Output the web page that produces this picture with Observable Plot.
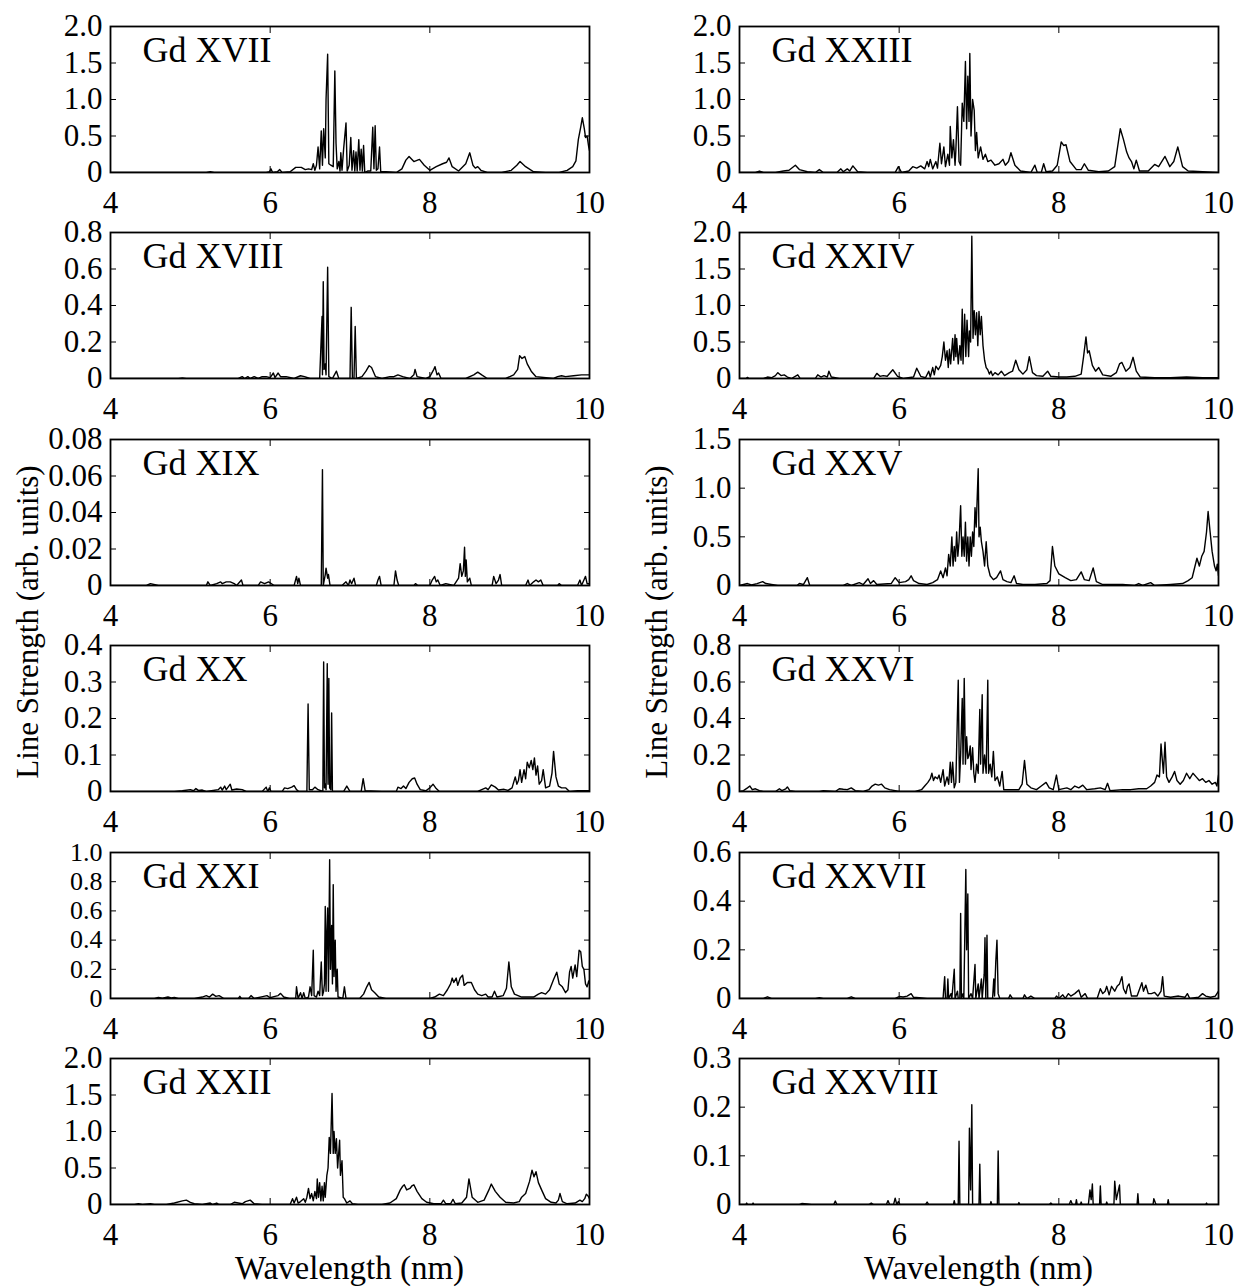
<!DOCTYPE html>
<html>
<head>
<meta charset="utf-8">
<script src="https://cdn.jsdelivr.net/npm/d3@7"></script>
<script src="https://cdn.jsdelivr.net/npm/@observablehq/plot@0.6"></script>
<style>
  html, body { margin: 0; padding: 0; background: #fff; }
  #fig { position: relative; width: 1238px; height: 1288px; background: #fff; overflow: hidden; }
  #fig > svg.panel { position: absolute; }
</style>
</head>
<body>
<div id="fig"></div>
<script>
// ---- data: [wavelength (nm), line strength (arb. units)] ----
const gdXVII = [[4.0,0],[4.9,0],[5.2,0],[5.25,0.01],[5.3,0],[5.95,0],[5.99,0.01],[6.01,0.05],[6.03,0],[6.09,0.01],[6.12,0.04],[6.15,0],[6.25,0.01],[6.32,0.07],[6.39,0.07],[6.44,0.04],[6.48,0.05],[6.52,0.04],[6.54,0.12],[6.56,0.03],[6.58,0.1],[6.60,0.35],[6.62,0.05],[6.64,0.57],[6.655,0.1],[6.67,0.6],[6.69,0.2],[6.70,1.0],[6.72,1.62],[6.735,0.12],[6.76,0.1],[6.79,0.08],[6.81,1.39],[6.825,0.4],[6.84,0.05],[6.86,0.15],[6.875,0.02],[6.885,0.27],[6.90,0.03],[6.92,0.32],[6.95,0.68],[6.965,0.02],[6.99,0.1],[7.01,0.48],[7.025,0.03],[7.045,0.3],[7.06,0.02],[7.075,0.28],[7.09,0.02],[7.11,0.45],[7.125,0.03],[7.14,0.32],[7.155,0.02],[7.17,0.37],[7.185,0],[7.22,0.02],[7.26,0.02],[7.285,0.62],[7.30,0.05],[7.315,0.64],[7.33,0.03],[7.35,0.05],[7.37,0.35],[7.385,0.01],[7.45,0.01],[7.58,0],[7.65,0.05],[7.70,0.17],[7.74,0.22],[7.80,0.15],[7.87,0.18],[7.93,0.1],[8.0,0.03],[8.08,0.08],[8.16,0.12],[8.21,0.14],[8.24,0.2],[8.28,0.08],[8.36,0.02],[8.45,0.12],[8.5,0.27],[8.54,0.1],[8.57,0.06],[8.6,0.08],[8.64,0.03],[8.72,0],[8.9,0],[9.02,0.03],[9.09,0.1],[9.13,0.15],[9.2,0.08],[9.3,0.01],[9.45,0],[9.62,0],[9.72,0.03],[9.79,0.08],[9.83,0.16],[9.86,0.45],[9.89,0.62],[9.91,0.75],[9.935,0.6],[9.95,0.48],[9.97,0.5],[9.99,0.35],[10.0,0.3]];

const gdXVIII = [[4.0,0],[4.85,0],[4.9,0.003],[4.95,0],[5.6,0],[5.65,0.01],[5.68,0],[5.72,0.01],[5.75,0],[5.8,0.01],[5.85,0],[5.9,0.01],[5.95,0.01],[6.0,0.005],[6.04,0.03],[6.06,0.005],[6.1,0.03],[6.13,0.01],[6.2,0.01],[6.3,0],[6.38,0.015],[6.43,0.01],[6.5,0],[6.62,0],[6.65,0.34],[6.655,0.02],[6.665,0.53],[6.675,0.05],[6.69,0.08],[6.70,0.02],[6.72,0.61],[6.735,0.01],[6.78,0],[6.83,0.04],[6.86,0],[7.0,0],[7.015,0.39],[7.03,0],[7.05,0],[7.065,0.285],[7.08,0],[7.15,0.01],[7.2,0.04],[7.24,0.07],[7.27,0.06],[7.32,0.01],[7.4,0],[7.5,0.01],[7.55,0.01],[7.6,0.02],[7.66,0.01],[7.75,0],[7.8,0.02],[7.815,0.05],[7.84,0.01],[7.95,0],[8.0,0.01],[8.05,0.05],[8.065,0.065],[8.09,0.02],[8.11,0.03],[8.14,0],[8.45,0],[8.55,0.02],[8.6,0.035],[8.65,0.02],[8.72,0],[8.95,0],[9.05,0.02],[9.1,0.05],[9.125,0.125],[9.155,0.11],[9.19,0.12],[9.22,0.08],[9.27,0.04],[9.33,0.01],[9.55,0],[9.6,0.01],[9.65,0.015],[9.7,0.01],[9.8,0.015],[9.9,0.02],[10.0,0.02]];

const gdXIX = [[4.0,0],[4.45,0],[4.5,0.001],[4.6,0],[5.2,0],[5.22,0.002],[5.25,0],[5.33,0.001],[5.38,0.002],[5.4,0.001],[5.45,0.002],[5.5,0.002],[5.55,0.001],[5.58,0],[5.64,0.003],[5.66,0],[5.85,0],[5.88,0.002],[5.93,0.001],[5.98,0.002],[6.05,0],[6.3,0],[6.33,0.005],[6.345,0.001],[6.36,0.004],[6.38,0],[6.64,0],[6.655,0.0635],[6.665,0],[6.69,0.006],[6.70,0.0095],[6.72,0.004],[6.73,0.006],[6.75,0],[6.9,0],[6.95,0.002],[6.98,0],[7.0,0.003],[7.02,0.001],[7.05,0.004],[7.07,0],[7.33,0],[7.35,0.003],[7.37,0.005],[7.39,0],[7.55,0],[7.57,0.008],[7.59,0.003],[7.61,0],[7.8,0],[7.82,0.001],[7.85,0],[8.0,0],[8.03,0.003],[8.06,0.005],[8.08,0.002],[8.1,0.003],[8.13,0],[8.2,0.001],[8.3,0],[8.36,0.004],[8.38,0.012],[8.40,0.005],[8.42,0.008],[8.435,0.021],[8.445,0.005],[8.455,0.014],[8.47,0.002],[8.5,0.004],[8.52,0],[8.78,0],[8.8,0.005],[8.83,0.001],[8.86,0.003],[8.88,0.006],[8.9,0],[9.2,0],[9.23,0.003],[9.25,0],[9.3,0.002],[9.33,0.003],[9.36,0.002],[9.39,0.003],[9.42,0],[9.6,0],[9.62,0.001],[9.65,0],[9.85,0],[9.88,0.003],[9.9,0],[9.93,0.003],[9.95,0.005],[9.97,0.001],[10.0,0.001]];

const gdXX = [[4.0,0],[4.8,0],[4.9,0.002],[5.0,0.005],[5.04,0.002],[5.07,0.008],[5.1,0.003],[5.15,0.004],[5.2,0],[5.35,0.005],[5.38,0.012],[5.4,0.004],[5.43,0.015],[5.45,0.005],[5.5,0.02],[5.52,0.004],[5.58,0.007],[5.65,0.005],[5.7,0],[5.9,0],[5.95,0.012],[5.97,0],[5.99,0.01],[6.01,0],[6.15,0],[6.18,0.01],[6.22,0.008],[6.27,0.012],[6.3,0.016],[6.33,0.005],[6.36,0],[6.46,0],[6.475,0.24],[6.49,0.005],[6.53,0.005],[6.56,0.012],[6.6,0.005],[6.66,0],[6.67,0.355],[6.68,0.01],[6.69,0.02],[6.70,0.005],[6.715,0.35],[6.725,0.02],[6.735,0.31],[6.745,0.01],[6.76,0.005],[6.77,0.215],[6.78,0],[6.92,0],[6.96,0.015],[7.0,0],[7.14,0],[7.165,0.035],[7.19,0.002],[7.4,0],[7.58,0],[7.6,0.012],[7.64,0.008],[7.67,0.015],[7.7,0.008],[7.74,0.025],[7.78,0.035],[7.81,0.037],[7.84,0.02],[7.88,0.005],[7.95,0.002],[8.0,0.01],[8.04,0.02],[8.08,0.008],[8.12,0],[8.6,0],[8.65,0.005],[8.7,0.01],[8.73,0.005],[8.77,0.018],[8.82,0.012],[8.86,0.004],[8.93,0.006],[8.98,0.003],[9.03,0.01],[9.07,0.04],[9.09,0.02],[9.11,0.03],[9.13,0.06],[9.15,0.025],[9.18,0.06],[9.2,0.035],[9.22,0.08],[9.245,0.065],[9.27,0.085],[9.29,0.06],[9.31,0.092],[9.33,0.045],[9.35,0.07],[9.37,0.02],[9.4,0.03],[9.42,0.06],[9.45,0.01],[9.5,0.015],[9.53,0.05],[9.55,0.11],[9.58,0.04],[9.61,0.015],[9.65,0.01],[9.7,0.01],[9.75,0],[9.85,0.002],[10.0,0.002]];

const gdXXI = [[4.0,0],[4.55,0],[4.6,0.008],[4.65,0.002],[4.72,0.01],[4.76,0.004],[4.8,0.008],[4.85,0],[5.05,0],[5.15,0.01],[5.2,0.02],[5.24,0.01],[5.28,0.03],[5.32,0.015],[5.36,0.02],[5.42,0],[5.6,0],[5.62,0.015],[5.64,0],[5.73,0],[5.76,0.02],[5.8,0],[5.92,0.015],[5.96,0.02],[6.0,0.005],[6.06,0.015],[6.1,0.02],[6.13,0.035],[6.17,0.01],[6.24,0],[6.32,0],[6.33,0.08],[6.35,0],[6.38,0.04],[6.4,0],[6.42,0.04],[6.44,0],[6.48,0.01],[6.5,0.08],[6.52,0.02],[6.54,0.33],[6.55,0.02],[6.58,0.01],[6.6,0.05],[6.62,0.02],[6.64,0.25],[6.655,0.02],[6.67,0.05],[6.68,0.1],[6.69,0.63],[6.70,0.05],[6.71,0.45],[6.72,0.62],[6.73,0.05],[6.745,0.95],[6.755,0.2],[6.77,0.5],[6.78,0.1],[6.79,0.78],[6.80,0.15],[6.815,0.4],[6.825,0.05],[6.84,0.2],[6.85,0.01],[6.91,0],[6.93,0.08],[6.95,0],[7.12,0],[7.17,0.03],[7.21,0.08],[7.24,0.11],[7.27,0.06],[7.31,0.04],[7.36,0.01],[7.45,0],[8.0,0],[8.06,0.01],[8.12,0.03],[8.17,0.02],[8.22,0.06],[8.26,0.1],[8.28,0.14],[8.3,0.11],[8.33,0.14],[8.35,0.09],[8.38,0.14],[8.41,0.16],[8.43,0.09],[8.47,0.11],[8.52,0.11],[8.56,0.06],[8.6,0.03],[8.65,0.02],[8.7,0.03],[8.73,0.01],[8.78,0.01],[8.81,0.05],[8.84,0.01],[8.92,0.02],[8.96,0.07],[8.99,0.25],[9.02,0.08],[9.06,0.03],[9.15,0.01],[9.3,0.01],[9.36,0.03],[9.4,0.04],[9.45,0.03],[9.5,0.06],[9.55,0.13],[9.59,0.18],[9.62,0.1],[9.66,0.08],[9.7,0.04],[9.73,0.06],[9.75,0.18],[9.77,0.22],[9.79,0.14],[9.82,0.23],[9.84,0.15],[9.86,0.27],[9.87,0.33],[9.89,0.32],[9.91,0.22],[9.93,0.2],[9.95,0.1],[9.97,0.08],[9.99,0.12],[10.0,0.1]];

const gdXXII = [[4.0,0],[4.3,0],[4.35,0.01],[4.4,0],[4.5,0.01],[4.55,0],[4.7,0],[4.8,0.02],[4.9,0.05],[4.95,0.06],[5.0,0.03],[5.05,0.01],[5.15,0],[5.25,0.02],[5.28,0],[5.33,0.02],[5.36,0],[5.5,0],[5.55,0.03],[5.6,0.02],[5.65,0.01],[5.69,0.04],[5.75,0.06],[5.8,0.01],[5.9,0],[6.25,0],[6.28,0.08],[6.3,0.02],[6.33,0.1],[6.35,0.02],[6.38,0.04],[6.42,0.08],[6.44,0.03],[6.46,0.1],[6.48,0.22],[6.5,0.08],[6.52,0.15],[6.54,0.05],[6.56,0.18],[6.58,0.08],[6.59,0.35],[6.605,0.1],[6.62,0.3],[6.635,0.05],[6.65,0.25],[6.665,0.05],[6.68,0.3],[6.69,0.1],[6.71,0.4],[6.725,0.5],[6.74,0.92],[6.755,0.7],[6.775,1.52],[6.79,0.7],[6.80,1.0],[6.815,0.7],[6.83,0.9],[6.845,0.5],[6.87,0.88],[6.88,0.4],[6.9,0.6],[6.915,0.1],[6.93,0.08],[6.96,0.02],[7.0,0.05],[7.03,0.01],[7.1,0],[7.4,0],[7.5,0.02],[7.58,0.08],[7.63,0.2],[7.66,0.25],[7.68,0.27],[7.71,0.2],[7.75,0.22],[7.78,0.26],[7.8,0.27],[7.84,0.18],[7.9,0.08],[7.96,0.03],[8.05,0.01],[8.14,0.01],[8.17,0.06],[8.2,0.01],[8.26,0.01],[8.29,0.07],[8.32,0.01],[8.4,0.02],[8.46,0.1],[8.49,0.35],[8.53,0.1],[8.6,0.03],[8.68,0.06],[8.74,0.2],[8.77,0.28],[8.82,0.18],[8.88,0.1],[8.95,0.03],[9.05,0.02],[9.12,0.04],[9.15,0.1],[9.2,0.15],[9.25,0.32],[9.28,0.47],[9.305,0.38],[9.33,0.45],[9.36,0.3],[9.4,0.2],[9.45,0.08],[9.52,0.03],[9.58,0.02],[9.61,0.06],[9.63,0.15],[9.66,0.04],[9.72,0.01],[9.82,0.02],[9.88,0.06],[9.91,0.04],[9.94,0.08],[9.96,0.14],[9.98,0.12],[10.0,0.08]];

const gdXXIII = [[4.0,0],[4.2,0],[4.25,0.02],[4.3,0],[4.45,0],[4.55,0.02],[4.62,0.03],[4.7,0.1],[4.75,0.04],[4.85,0.01],[4.95,0],[5.0,0.04],[5.05,0],[5.22,0],[5.27,0.05],[5.3,0.01],[5.35,0.05],[5.38,0.02],[5.42,0.09],[5.48,0.01],[5.6,0],[5.95,0],[5.99,0.08],[6.03,0],[6.12,0.02],[6.17,0.08],[6.22,0.06],[6.27,0.09],[6.32,0.05],[6.35,0.15],[6.37,0.08],[6.39,0.18],[6.42,0.05],[6.46,0.15],[6.48,0.06],[6.51,0.4],[6.53,0.12],[6.56,0.35],[6.58,0.08],[6.61,0.25],[6.63,0.1],[6.64,0.63],[6.66,0.2],[6.68,0.45],[6.70,0.1],[6.71,0.3],[6.73,0.9],[6.75,0.15],[6.77,0.1],[6.79,0.95],[6.81,0.7],[6.83,1.52],[6.845,0.6],[6.86,1.32],[6.875,0.7],[6.885,1.63],[6.90,0.5],[6.92,1.0],[6.94,0.85],[6.955,0.3],[6.97,0.55],[6.99,0.2],[7.02,0.35],[7.05,0.18],[7.08,0.25],[7.11,0.15],[7.15,0.17],[7.2,0.1],[7.25,0.12],[7.3,0.18],[7.33,0.1],[7.37,0.15],[7.4,0.27],[7.45,0.1],[7.52,0.02],[7.65,0],[7.7,0.1],[7.73,0],[7.78,0],[7.81,0.12],[7.84,0.01],[7.92,0.02],[7.98,0.1],[8.03,0.42],[8.06,0.37],[8.09,0.38],[8.14,0.15],[8.22,0.04],[8.28,0.04],[8.32,0.12],[8.37,0.03],[8.5,0.01],[8.62,0.02],[8.7,0.08],[8.77,0.6],[8.81,0.45],[8.85,0.28],[8.88,0.2],[8.91,0.15],[8.94,0.05],[8.97,0.17],[9.01,0.02],[9.12,0.02],[9.2,0.11],[9.25,0.08],[9.33,0.22],[9.39,0.08],[9.44,0.15],[9.49,0.35],[9.55,0.08],[9.62,0.02],[9.8,0.01],[10.0,0]];

const gdXXIV = [[4.0,0],[4.08,0],[4.1,0.015],[4.12,0],[4.3,0],[4.35,0.02],[4.4,0.01],[4.45,0.04],[4.48,0.08],[4.52,0.04],[4.56,0.05],[4.6,0.02],[4.65,0],[4.73,0.05],[4.76,0],[4.95,0],[4.98,0.05],[5.02,0.02],[5.06,0.04],[5.1,0.02],[5.12,0.1],[5.15,0.02],[5.25,0],[5.68,0],[5.72,0.07],[5.76,0.03],[5.8,0.04],[5.85,0.03],[5.92,0.12],[5.98,0.03],[6.05,0],[6.18,0.02],[6.22,0.14],[6.27,0.03],[6.33,0.01],[6.37,0.1],[6.39,0.02],[6.42,0.15],[6.44,0.05],[6.46,0.17],[6.49,0.12],[6.52,0.18],[6.54,0.3],[6.56,0.5],[6.58,0.25],[6.6,0.38],[6.615,0.15],[6.63,0.4],[6.645,0.2],[6.67,0.55],[6.685,0.25],[6.70,0.6],[6.71,0.3],[6.72,0.55],[6.74,0.2],[6.76,0.45],[6.775,0.25],[6.79,0.95],[6.80,0.2],[6.82,0.88],[6.835,0.3],[6.85,0.8],[6.87,0.3],[6.88,0.65],[6.895,0.5],[6.91,1.95],[6.925,0.55],[6.94,0.93],[6.955,0.6],[6.97,0.9],[6.985,0.45],[7.0,0.92],[7.015,0.6],[7.03,0.85],[7.05,0.45],[7.07,0.25],[7.09,0.15],[7.11,0.12],[7.13,0.06],[7.15,0.1],[7.17,0.04],[7.2,0.08],[7.24,0.05],[7.28,0.1],[7.32,0.04],[7.38,0.08],[7.42,0.1],[7.46,0.25],[7.5,0.12],[7.55,0.06],[7.6,0.12],[7.63,0.3],[7.67,0.08],[7.72,0.04],[7.8,0.03],[7.86,0.1],[7.9,0.03],[8.0,0.02],[8.1,0.02],[8.2,0.03],[8.28,0.06],[8.31,0.3],[8.34,0.57],[8.36,0.35],[8.38,0.38],[8.42,0.18],[8.46,0.1],[8.5,0.15],[8.55,0.05],[8.65,0.03],[8.72,0.08],[8.76,0.2],[8.79,0.22],[8.84,0.1],[8.89,0.15],[8.93,0.29],[8.97,0.1],[9.02,0.02],[9.2,0.01],[9.4,0.01],[9.6,0.02],[9.8,0.01],[10.0,0.01]];

const gdXXV = [[4.0,0],[4.1,0.02],[4.15,0.005],[4.22,0.02],[4.29,0.04],[4.33,0.02],[4.4,0.01],[4.48,0],[4.72,0],[4.75,0.02],[4.8,0.01],[4.85,0.08],[4.88,0],[5.3,0],[5.35,0.02],[5.4,0],[5.5,0.03],[5.55,0.01],[5.61,0.07],[5.64,0.02],[5.68,0.05],[5.72,0.01],[5.9,0.02],[5.95,0.08],[6.0,0.03],[6.08,0.04],[6.12,0.06],[6.15,0.1],[6.18,0.05],[6.25,0.02],[6.35,0.01],[6.42,0.03],[6.48,0.06],[6.52,0.15],[6.55,0.08],[6.58,0.18],[6.6,0.1],[6.62,0.32],[6.64,0.2],[6.66,0.5],[6.675,0.2],[6.69,0.4],[6.705,0.25],[6.72,0.55],[6.735,0.3],[6.75,0.45],[6.77,0.82],[6.785,0.3],[6.8,0.5],[6.815,0.3],[6.83,0.65],[6.845,0.25],[6.86,0.5],[6.875,0.2],[6.89,0.5],[6.905,0.3],[6.92,0.55],[6.935,0.4],[6.95,0.8],[6.965,0.6],[6.99,1.2],[7.0,0.5],[7.015,0.6],[7.03,0.45],[7.05,0.35],[7.07,0.2],[7.09,0.45],[7.11,0.2],[7.14,0.1],[7.18,0.06],[7.22,0.08],[7.27,0.15],[7.3,0.06],[7.35,0.04],[7.4,0.03],[7.44,0.1],[7.47,0.02],[7.55,0.01],[7.7,0.01],[7.85,0.02],[7.89,0.05],[7.92,0.4],[7.95,0.2],[8.0,0.12],[8.08,0.08],[8.15,0.05],[8.22,0.06],[8.28,0.14],[8.32,0.06],[8.38,0.05],[8.43,0.18],[8.47,0.04],[8.55,0.01],[8.8,0.01],[8.95,0],[9.0,0.02],[9.05,0],[9.15,0.03],[9.2,0],[9.4,0.01],[9.55,0.02],[9.62,0.05],[9.67,0.08],[9.73,0.28],[9.76,0.2],[9.79,0.3],[9.82,0.35],[9.85,0.55],[9.87,0.76],[9.895,0.55],[9.92,0.35],[9.95,0.2],[9.97,0.15],[9.985,0.22],[10.0,0.1]];

const gdXXVI = [[4.0,0],[4.05,0.005],[4.1,0.02],[4.13,0.03],[4.16,0.01],[4.2,0.015],[4.25,0.005],[4.3,0],[4.45,0],[4.5,0.015],[4.53,0.005],[4.58,0.015],[4.6,0.025],[4.63,0.005],[4.7,0],[5.0,0],[5.05,0.005],[5.2,0],[5.25,0.015],[5.3,0.012],[5.35,0.01],[5.4,0.02],[5.45,0.005],[5.55,0],[5.62,0.01],[5.66,0.03],[5.7,0.04],[5.74,0.035],[5.78,0.04],[5.82,0.02],[5.88,0.01],[5.95,0.005],[6.0,0],[6.2,0],[6.28,0.01],[6.32,0.03],[6.36,0.05],[6.39,0.07],[6.41,0.1],[6.43,0.06],[6.45,0.08],[6.48,0.07],[6.5,0.09],[6.52,0.05],[6.55,0.12],[6.57,0.03],[6.6,0.08],[6.62,0.04],[6.64,0.16],[6.655,0.05],[6.67,0.16],[6.69,0.02],[6.71,0.05],[6.74,0.61],[6.755,0.05],[6.77,0.2],[6.79,0.51],[6.80,0.15],[6.815,0.62],[6.83,0.15],[6.845,0.3],[6.86,0.18],[6.875,0.2],[6.89,0.25],[6.90,0.12],[6.92,0.24],[6.935,0.1],[6.95,0.05],[6.97,0.15],[6.99,0.1],[7.01,0.45],[7.02,0.15],[7.04,0.53],[7.05,0.1],[7.07,0.2],[7.09,0.1],[7.11,0.61],[7.12,0.1],[7.14,0.15],[7.16,0.08],[7.18,0.22],[7.2,0.06],[7.23,0.08],[7.26,0.03],[7.29,0.11],[7.31,0.01],[7.4,0.01],[7.5,0.01],[7.54,0.04],[7.57,0.17],[7.6,0.04],[7.65,0.02],[7.72,0.01],[7.78,0.03],[7.84,0.05],[7.88,0.02],[7.93,0.01],[7.97,0.09],[8.0,0.01],[8.1,0.02],[8.15,0.01],[8.2,0.03],[8.25,0.02],[8.3,0.035],[8.35,0.01],[8.45,0.015],[8.52,0.02],[8.58,0.01],[8.61,0.045],[8.64,0.005],[8.8,0.01],[8.9,0.01],[9.0,0.015],[9.1,0.015],[9.15,0.03],[9.2,0.05],[9.23,0.09],[9.26,0.08],[9.28,0.26],[9.31,0.1],[9.33,0.27],[9.35,0.08],[9.38,0.05],[9.42,0.08],[9.45,0.11],[9.48,0.06],[9.52,0.04],[9.56,0.06],[9.6,0.1],[9.64,0.07],[9.68,0.1],[9.72,0.08],[9.76,0.06],[9.8,0.07],[9.84,0.05],[9.88,0.06],[9.92,0.04],[9.96,0.05],[9.98,0.03],[10.0,0.09]];

const gdXXVII = [[4.0,0],[4.3,0],[4.35,0.007],[4.4,0],[4.95,0],[5.0,0.003],[5.05,0],[5.35,0],[5.4,0.007],[5.45,0],[5.95,0],[6.0,0.008],[6.05,0.006],[6.1,0.01],[6.15,0.02],[6.18,0.005],[6.25,0.003],[6.35,0],[6.55,0],[6.57,0.09],[6.58,0],[6.60,0],[6.61,0.08],[6.62,0],[6.65,0.02],[6.66,0],[6.69,0.12],[6.70,0],[6.73,0.03],[6.74,0],[6.76,0],[6.77,0.35],[6.78,0],[6.80,0.02],[6.81,0],[6.835,0.53],[6.845,0.2],[6.86,0.43],[6.87,0],[6.9,0.02],[6.92,0],[6.95,0.14],[6.96,0],[6.99,0.06],[7.0,0],[7.03,0.08],[7.04,0],[7.065,0.1],[7.075,0.25],[7.085,0],[7.10,0.26],[7.11,0],[7.17,0],[7.185,0.08],[7.195,0.01],[7.21,0.15],[7.225,0.24],[7.24,0.02],[7.26,0],[7.37,0],[7.39,0.015],[7.42,0],[7.55,0],[7.57,0.015],[7.6,0],[7.65,0.01],[7.7,0],[7.95,0],[7.97,0.01],[8.0,0],[8.05,0.015],[8.08,0],[8.12,0.02],[8.15,0.01],[8.2,0.02],[8.25,0.035],[8.28,0.005],[8.33,0.02],[8.36,0],[8.48,0],[8.52,0.04],[8.55,0.02],[8.58,0.03],[8.6,0.05],[8.63,0.015],[8.66,0.05],[8.7,0.03],[8.73,0.05],[8.76,0.06],[8.79,0.09],[8.81,0.04],[8.84,0.02],[8.86,0.05],[8.88,0.06],[8.91,0.01],[8.98,0.01],[9.04,0.065],[9.06,0.03],[9.09,0.055],[9.12,0.02],[9.16,0.02],[9.2,0.025],[9.24,0.01],[9.28,0.03],[9.3,0.09],[9.32,0.01],[9.4,0.005],[9.5,0.01],[9.58,0.005],[9.61,0.02],[9.64,0],[9.75,0.005],[9.8,0.02],[9.84,0.01],[9.9,0.005],[9.96,0.01],[10.0,0.03]];

const gdXXVIII = [[4.0,0],[4.08,0],[4.09,0.003],[4.1,0],[4.16,0],[4.17,0.003],[4.18,0],[4.75,0],[4.78,0.002],[4.85,0.001],[4.9,0],[5.18,0],[5.2,0.007],[5.22,0],[5.62,0],[5.65,0.003],[5.68,0],[5.84,0],[5.86,0.008],[5.88,0],[5.93,0],[5.95,0.013],[5.97,0],[5.99,0.006],[6.01,0],[6.33,0],[6.35,0.005],[6.37,0],[6.68,0],[6.69,0.008],[6.70,0],[6.74,0],[6.75,0.13],[6.76,0],[6.87,0],[6.88,0.157],[6.895,0.03],[6.91,0.205],[6.92,0],[7.0,0],[7.01,0.083],[7.02,0],[7.14,0],[7.15,0.006],[7.16,0],[7.23,0],[7.24,0.11],[7.25,0],[7.49,0],[7.5,0.004],[7.51,0],[7.88,0],[7.9,0.003],[7.92,0],[8.13,0],[8.15,0.008],[8.17,0],[8.21,0],[8.22,0.01],[8.23,0],[8.27,0],[8.28,0.005],[8.29,0],[8.37,0],[8.39,0.03],[8.405,0.01],[8.42,0.042],[8.43,0],[8.51,0],[8.52,0.038],[8.53,0],[8.59,0],[8.6,0.005],[8.61,0],[8.69,0],[8.70,0.048],[8.72,0.01],[8.76,0.04],[8.77,0],[8.98,0],[8.99,0.022],[9.0,0],[9.18,0],[9.19,0.012],[9.21,0.003],[9.22,0],[9.36,0],[9.37,0.01],[9.38,0],[9.84,0],[9.85,0.003],[9.86,0],[10.0,0]];

// ---- tick values ----
const xTicks = [4, 6, 8, 10];
const yTicks2 = [0, 0.5, 1.0, 1.5, 2.0];
const yTicks15 = [0, 0.5, 1.0, 1.5];
const yTicks1 = [0, 0.2, 0.4, 0.6, 0.8, 1.0];
const yTicks08 = [0, 0.2, 0.4, 0.6, 0.8];
const yTicks06 = [0, 0.2, 0.4, 0.6];
const yTicks04 = [0, 0.1, 0.2, 0.3, 0.4];
const yTicks03 = [0, 0.1, 0.2, 0.3];
const yTicks008 = [0, 0.02, 0.04, 0.06, 0.08];

// ---- panel titles ----
const titles = ["Gd XVII","Gd XVIII","Gd XIX","Gd XX","Gd XXI","Gd XXII",
                "Gd XXIII","Gd XXIV","Gd XXV","Gd XXVI","Gd XXVII","Gd XXVIII"];
const series = [gdXVII, gdXVIII, gdXIX, gdXX, gdXXI, gdXXII,
                gdXXIII, gdXXIV, gdXXV, gdXXVI, gdXXVII, gdXXVIII];
const yMax = [2, 0.8, 0.08, 0.4, 1.0, 2, 2, 2, 1.5, 0.8, 0.6, 0.3];
const yTickSets = [yTicks2, yTicks08, yTicks008, yTicks04, yTicks1, yTicks2,
                   yTicks2, yTicks2, yTicks15, yTicks08, yTicks06, yTicks03];
const yDecimals = [1, 1, 2, 1, 1, 1, 1, 1, 1, 1, 1, 1];

const xLabel = "Wavelength (nm)";
const yLabel = "Line Strength (arb. units)";

// ---- layout ----
const FONT = "'Liberation Serif', 'Times New Roman', Times, serif";
const fig = document.getElementById("fig");
const SVG_W = 619, SVG_H = 207;
const ROW_PITCH = 206.4;
const colLeftMargin = [110, 120];   // frame left inside each column svg
const frameW = 479;
const mTop = 26, frameH = 146;

series.forEach((data, i) => {
  const col = i < 6 ? 0 : 1;
  const row = i % 6;
  const ml = colLeftMargin[col];
  const mr = SVG_W - ml - frameW;
  const dec = yDecimals[i];
  const nTicks = yTickSets[i].length;
  // tightly packed tick labels (six ticks in one frame) are set a little smaller
  const yTickFont = nTicks > 5 ? 26 : 31;
  const chart = Plot.plot({
    width: SVG_W,
    height: SVG_H,
    marginLeft: ml,
    marginRight: mr,
    marginTop: mTop,
    marginBottom: SVG_H - mTop - frameH,
    x: {domain: [4, 10]},
    y: {domain: [0, yMax[i]]},
    style: {fontFamily: FONT, fontSize: "31px", color: "black", background: "transparent", overflow: "visible"},
    marks: [
      Plot.line(data, {x: d => d[0], y: d => d[1], stroke: "black", strokeWidth: 1.4, clip: true}),
      Plot.frame({stroke: "black", strokeWidth: 1.8}),
      Plot.axisX({ticks: xTicks, tickSize: -6, tickPadding: 24, tickFormat: d => String(d), label: null}),
      Plot.axisX({anchor: "top", ticks: xTicks, tickSize: -6, fill: "none", label: null}),
      Plot.axisY({ticks: yTickSets[i], tickSize: -6, tickPadding: 14, fontSize: yTickFont,
                  tickFormat: d => d === 0 ? "0" : d.toFixed(dec), label: null}),
      Plot.axisY({anchor: "right", ticks: yTickSets[i], tickSize: -6, fill: "none", label: null}),
      Plot.text([titles[i]], {text: d => d, frameAnchor: "top-left", dx: 32, dy: 10,
                              textAnchor: "start", lineAnchor: "top", fontSize: 36})
    ]
  });
  chart.classList.add("panel");
  chart.style.left = (col * SVG_W) + "px";
  chart.style.top = (row * ROW_PITCH) + "px";
  fig.appendChild(chart);
});

// ---- axis titles (overlay svg text) ----
const ns = "http://www.w3.org/2000/svg";
const ov = document.createElementNS(ns, "svg");
ov.setAttribute("width", 1238);
ov.setAttribute("height", 1288);
ov.style.position = "absolute";
ov.style.left = "0px";
ov.style.top = "0px";
ov.style.pointerEvents = "none";
function addText(str, x, y, rot, size) {
  const t = document.createElementNS(ns, "text");
  t.textContent = str;
  t.setAttribute("text-anchor", "middle");
  t.setAttribute("font-family", FONT);
  t.setAttribute("font-size", size);
  t.setAttribute("fill", "black");
  t.setAttribute("transform", `translate(${x},${y})` + (rot ? ` rotate(${rot})` : ""));
  ov.appendChild(t);
}
addText(yLabel, 38, 622, -90, 31);
addText(yLabel, 667, 622, -90, 31);
addText(xLabel, 349.5, 1279, 0, 33);
addText(xLabel, 978.5, 1279, 0, 33);
fig.appendChild(ov);
</script>
</body>
</html>
